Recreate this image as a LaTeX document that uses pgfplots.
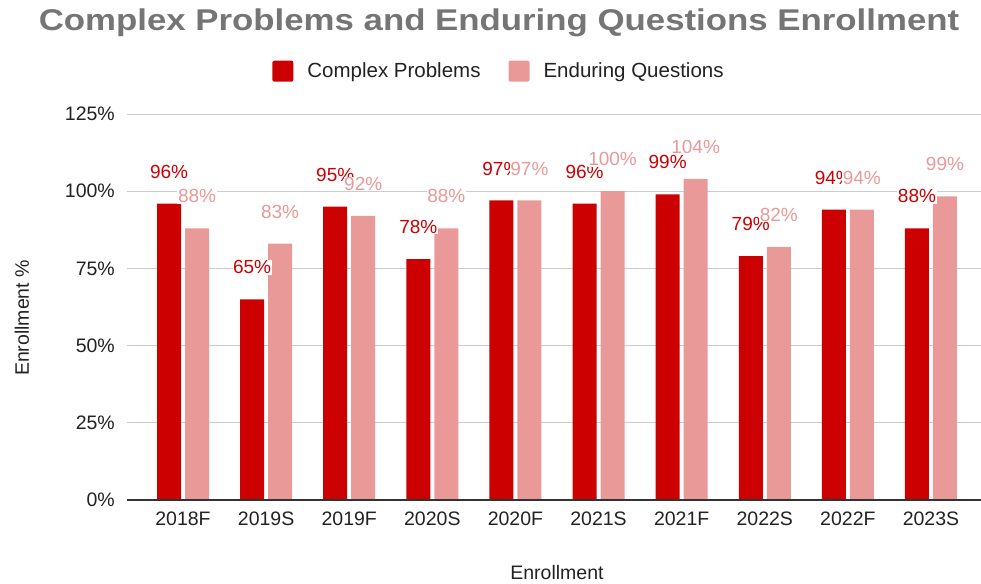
\documentclass[border=0pt]{standalone}
\usepackage{pgfplots}
\pgfplotsset{compat=1.18}
\usepackage{pgfplotstable}
\usepackage{fontspec}
\setmainfont{Liberation Sans}
\newfontfamily\titlefont[FakeStretch=1.16]{Liberation Sans}
\definecolor{cpred}{HTML}{CC0000}
\definecolor{eqpink}{HTML}{EA9999}
\definecolor{titlegray}{HTML}{757575}
\definecolor{txt}{HTML}{222222}
\definecolor{gridc}{HTML}{CCCCCC}
\definecolor{zeroc}{HTML}{333333}
\pgfplotsset{sqlegend/.style={legend image code/.code={\fill[##1, rounded corners=2pt] (0pt,-10.5pt) rectangle (21pt,10.5pt);}}}
\pgfplotstableread{
x cp cpl eq eql
0 96 96 88 88
1 65 65 83 83
2 95 95 92 92
3 78 78 88 88
4 97 97 97 97
5 96 96 100 100
6 99 99 104 104
7 79 79 82 82
8 94 94 94 94
9 88 88 98.3 99
}\datatable
\begin{document}
\begin{tikzpicture}
\path[use as bounding box] (0pt,0pt) rectangle (981pt,-583pt);
\begin{axis}[
  at={(127pt,-500pt)}, anchor=south west,
  width=854pt, height=386pt, scale only axis,
  xmin=-0.674, xmax=9.602, ymin=0, ymax=125,
  xtick={0,1,2,3,4,5,6,7,8,9},
  xticklabels={2018F,2019S,2019F,2020S,2020F,2021S,2021F,2022S,2022F,2023S},
  ytick={0,25,50,75,100,125},
  yticklabels={0\%,25\%,50\%,75\%,100\%,125\%},
  major tick length=0pt,
  axis line style={draw=none},
  ymajorgrids, grid style={gridc, line width=1pt},
  ticklabel style={font=\fontsize{19.5}{22}\selectfont, text=txt},
  xticklabel style={anchor=north, inner sep=0pt, yshift=-12pt},
  yticklabel style={anchor=east, inner sep=0pt, xshift=-12pt},
  title={Complex Problems and Enduring Questions Enrollment},
  title style={at={(0.4356,1.2020)}, anchor=base, font=\titlefont\bfseries\fontsize{30}{36}\selectfont, text=titlegray},
  xlabel={Enrollment},
  xlabel style={at={(0.5035,-0.2047)}, anchor=base, font=\fontsize{19.5}{22}\selectfont, text=txt},
  ylabel={Enrollment \%},
  ylabel style={at={(-0.1148,0.4715)}, anchor=base, font=\fontsize{19.5}{22}\selectfont, text=txt},
  legend style={at={(0.4356,1.111)}, anchor=center, draw=none, fill=none,
    legend columns=2, font=\fontsize{20.5}{24}\selectfont, text=txt,
    /tikz/every odd column/.append style={column sep=12pt},
    /tikz/every even column/.append style={column sep=26pt}},
  ybar, bar width=24pt,
  after end axis/.code={\draw[zeroc, line width=1.3pt] (rel axis cs:0,0) -- (rel axis cs:1,0);},
]
\addplot[fill=cpred, draw=none, bar shift=-14pt, sqlegend] table[x=x, y=cp] {\datatable};
\addlegendentry{Complex Problems}
\addplot[fill=eqpink, draw=none, bar shift=14pt, sqlegend] table[x=x, y=eq] {\datatable};
\addlegendentry{Enduring Questions}
\addplot[draw=none, fill=none, bar shift=-14pt, forget plot,
  nodes near coords={\pgfplotspointmeta\%}, point meta=explicit symbolic,
  nodes near coords style={font=\fontsize{19}{22}\selectfont, text=cpred, fill=white, inner sep=0.6pt, anchor=center, yshift=32pt}]
  table[x=x, y=cp, meta=cpl] {\datatable};
\addplot[draw=none, fill=none, bar shift=14pt, forget plot,
  nodes near coords={\pgfplotspointmeta\%}, point meta=explicit symbolic,
  nodes near coords style={font=\fontsize{19}{22}\selectfont, text=eqpink, fill=white, inner sep=0.6pt, anchor=center, yshift=32pt}]
  table[x=x, y=eq, meta=eql] {\datatable};
\end{axis}
\end{tikzpicture}
\end{document}
